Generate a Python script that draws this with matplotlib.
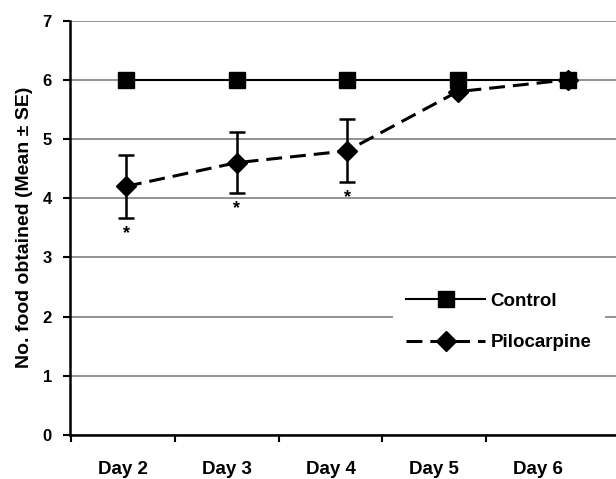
import numpy as np
import matplotlib
matplotlib.use("Agg")
import matplotlib.pyplot as plt
from matplotlib.lines import Line2D

# data
days        = ["Day 2", "Day 3", "Day 4", "Day 5", "Day 6"]
control     = [6.0, 6.0, 6.0, 6.0, 6.0]
pilocarpine = [4.2, 4.6, 4.8, 5.8, 6.0]
pilo_se     = [0.53, 0.52, 0.53, 0.0, 0.0]
signif      = [True, True, True, False, False]

plt.rcParams["font.family"] = ["Liberation Sans", "DejaVu Sans"]
plt.rcParams["font.weight"] = "bold"

fig = plt.figure(figsize=(6.16, 4.79), dpi=100)
ax = fig.add_axes([0.1136, 0.0919, 0.8864, 0.865])

x = np.arange(len(days))

ax.plot(x, control, "-", color="black", lw=1.5, marker="s", markersize=12,
        zorder=3)
ax.errorbar(x, pilocarpine, yerr=pilo_se, color="black", lw=2.2,
            marker="D", markersize=10, capsize=5.5, capthick=1.8,
            elinewidth=1.8, dashes=(5.2, 2.6), zorder=4)

for xi, m, s, sig in zip(x, pilocarpine, pilo_se, signif):
  if sig:
    ax.text(xi, m - s - 0.12, "*", ha="center", va="top", fontsize=13,
            fontweight="bold")

# axes
ax.set_ylim(0, 7)
ax.set_xlim(-0.507, 4.434)
ax.set_yticks(range(0, 8))
ax.tick_params(axis="y", direction="out", length=5, width=1.5, labelsize=12,
               pad=8)
# category labels sit between the tick marks, like the Excel original
step = 0.94
ax.set_xticks(-0.5 + step * np.arange(len(days)))
ax.set_xticklabels([])
ax.set_xticks(-0.03 + step * np.arange(len(days)), minor=True)
ax.set_xticklabels(days, minor=True, fontsize=13.5, fontweight="bold")
ax.tick_params(axis="x", which="major", direction="out", length=5, width=1.5)
ax.tick_params(axis="x", which="minor", length=0, pad=19)

ax.set_ylabel("No. food obtained (Mean \u00b1 SE)", fontsize=14,
              fontweight="bold", labelpad=7)

ax.yaxis.grid(True, color="#808080", lw=1.2)
ax.set_axisbelow(True)
for side in ["top", "right"]:
  ax.spines[side].set_visible(False)
for side in ["left", "bottom"]:
  ax.spines[side].set_linewidth(1.8)

handles = [
  Line2D([], [], color="black", lw=1.5, marker="s", markersize=12),
  Line2D([], [], color="black", lw=2.2, marker="D", markersize=10,
         dashes=(5.2, 2.6)),
]
leg = ax.legend(handles, ["Control", "Pilocarpine"], loc="upper left",
                bbox_to_anchor=(0.592, 0.375), borderaxespad=0,
                fontsize=13.5, handlelength=4.2, handletextpad=0.3,
                labelspacing=1.3, borderpad=0.7, frameon=True,
                fancybox=False)
leg.get_frame().set_facecolor("white")
leg.get_frame().set_edgecolor("none")
leg.get_frame().set_alpha(1)
for t in leg.get_texts():
  t.set_fontweight("bold")

fig.savefig("out.png", dpi=100)
